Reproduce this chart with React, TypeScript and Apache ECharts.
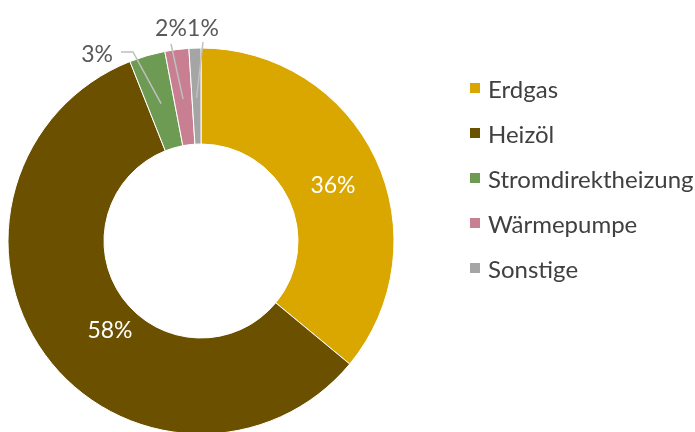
import React, { useEffect, useRef } from "react";
import * as echarts from "echarts";

const categories = ["Erdgas", "Heizöl", "Stromdirektheizung", "Wärmepumpe", "Sonstige"];
const values = [36, 58, 3, 2, 1];
const colors = ["#DAA600", "#6B5000", "#6E9B53", "#C97F92", "#A5A5A5"];

export default function App() {
  const ref = useRef<HTMLDivElement>(null);
  useEffect(() => {
    const chart = echarts.init(ref.current!, null, { renderer: "svg" });
    const cx = 201;
    const cy = 241;
    const rIn = 97;
    const rOut = 193;
    const labelPlace: Record<number, any> = {
      0: { x: 333, y: 184, align: "center" },
      1: { x: 110, y: 329, align: "center" },
      2: { x: 113, y: 53, align: "right", bend: [[133, 52], [121, 52]] },
      3: { x: 171, y: 27, align: "center", bend: [[171, 44]] },
      4: { x: 203, y: 27, align: "center", bend: [[203, 42]] },
    };
    const total = values.reduce((a, b) => a + b, 0);
    const rMid = 143;
    let cum = 0;
    const lines: any[] = [];
    values.forEach((v, i) => {
      const mid = ((cum + v / 2) / total) * Math.PI * 2;
      cum += v;
      const o = labelPlace[i];
      if (o && o.bend) {
        const start = [cx + rMid * Math.sin(mid), cy - rMid * Math.cos(mid)];
        lines.push({
          type: "polyline",
          z: 100,
          silent: true,
          shape: { points: [start, ...o.bend] },
          style: { stroke: "#BFBFBF", lineWidth: 1.5, fill: "none" },
        });
      }
    });
    chart.setOption({
      animation: false,
      color: colors,
      legend: {
        orient: "vertical",
        left: 463,
        top: 71,
        itemWidth: 12,
        itemHeight: 12,
        itemGap: 21,
        icon: "rect",
        textStyle: { fontFamily: "Lato", fontSize: 24, color: "#404040", padding: [0, 0, 0, 2] },
        data: categories,
      },
      graphic: lines,
      series: [
        {
          type: "pie",
          center: [cx, cy],
          radius: [rIn, rOut],
          startAngle: 90,
          clockwise: true,
          avoidLabelOverlap: false,
          itemStyle: { borderColor: "#ffffff", borderWidth: 1 },
          label: {
            fontFamily: "Lato",
            fontSize: 23,
            formatter: "{d}%",
          },
          labelLine: { show: false },
          labelLayout: (params: any) => {
            const o = labelPlace[params.dataIndex];
            if (!o) return {};
            return { x: o.x, y: o.y, align: o.align, verticalAlign: "middle" };
          },
          data: categories.map((name, i) => ({
            name,
            value: values[i],
            label:
              i < 2
                ? { position: "inside", color: "#ffffff", formatter: `${values[i]}%` }
                : { position: "outside", color: "#595959", formatter: `${values[i]}%` },
            labelLine: { show: false },
          })),
        },
      ],
    });
    return () => chart.dispose();
  }, []);
  return <div ref={ref} style={{ position: "fixed", left: 0, top: 0, width: 695, height: 432 }} />;
}
